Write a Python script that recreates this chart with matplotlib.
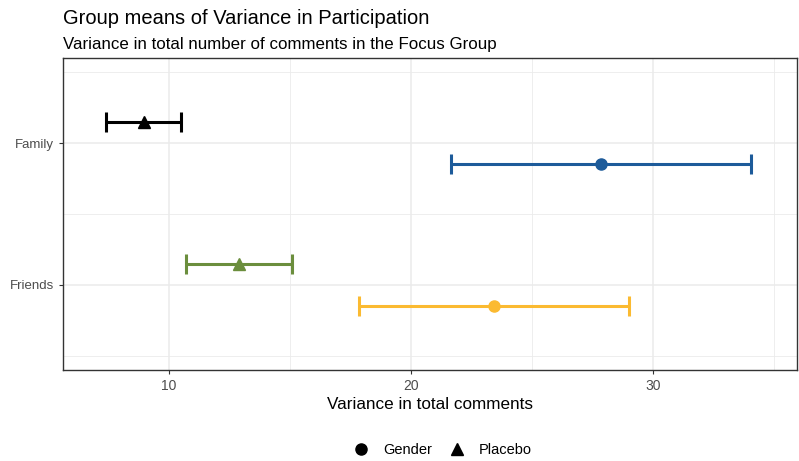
import matplotlib
matplotlib.use("Agg")
import matplotlib.pyplot as plt
from matplotlib.lines import Line2D
import numpy as np

categories = ["Friends", "Family"]
groups = ["Placebo", "Gender"]
# means / lower / upper per category (Friends, Family)
placebo_mean = [12.9, 8.95]
placebo_low = [10.7, 7.4]
placebo_high = [15.1, 10.5]
gender_mean = [23.45, 27.85]
gender_low = [17.85, 21.65]
gender_high = [29.0, 34.05]
colors = {("Friends", "Placebo"): "#6B8E3D", ("Family", "Placebo"): "#000000",
          ("Friends", "Gender"): "#FBBA31", ("Family", "Gender"): "#1D5B9A"}

plt.rcParams['font.family'] = ['Liberation Sans', 'DejaVu Sans']
fig = plt.figure(figsize=(7.99, 4.61), dpi=100)
ax = fig.add_axes([63/799, 1-370/461, (797-63)/799, (370-58)/461])

dodge = 0.15
for gi, (g, m, lo, hi, mk, off) in enumerate([
        ("Placebo", placebo_mean, placebo_low, placebo_high, "^", dodge),
        ("Gender", gender_mean, gender_low, gender_high, "o", -dodge)]):
    for ci, c in enumerate(categories):
        y = ci + 1 + off
        col = colors[(c, g)]
        ax.errorbar(m[ci], y, xerr=[[m[ci]-lo[ci]], [hi[ci]-m[ci]]], fmt=mk,
                    color=col, ecolor=col, elinewidth=2.2, capsize=7, capthick=2.2,
                    markersize=8, zorder=3)

ax.set_xlim(5.62, 35.95)
ax.set_ylim(0.4, 2.6)
ax.set_xticks([10, 20, 30])
ax.set_xticks([15, 25, 35], minor=True)
ax.set_yticks([1, 2])
ax.set_yticklabels(categories)
ax.set_yticks([0.5, 1.5, 2.5], minor=True)
ax.grid(which='major', color='#EBEBEB', linewidth=1.1)
ax.grid(which='minor', color='#EBEBEB', linewidth=0.6)
ax.set_axisbelow(True)
ax.tick_params(which='minor', length=0)
ax.tick_params(which='major', length=3, color='#333333', labelcolor='#4D4D4D', width=0.8)
ax.tick_params(axis='x', labelsize=10)
ax.tick_params(axis='y', labelsize=9.5)
for s in ax.spines.values():
    s.set_color('#333333')
    s.set_linewidth(1.0)
ax.set_xlabel("Variance in total comments", fontsize=12.3, labelpad=3)

fig.text(63/799, 1-18/461, "Group means of Variance in Participation", fontsize=14.5, va='center', ha='left')
fig.text(63/799, 1-44/461, "Variance in total number of comments in the Focus Group", fontsize=12.2, va='center', ha='left')

handles = [Line2D([], [], marker='o', linestyle='none', color='black', markersize=8),
           Line2D([], [], marker='^', linestyle='none', color='black', markersize=9)]
fig.legend(handles, ["Gender", "Placebo"], loc='center', bbox_to_anchor=(443/799, 1-450/461),
           ncol=2, frameon=False, fontsize=10.5, handletextpad=1.0, columnspacing=1.2, handlelength=1.0)

fig.savefig("out.png", dpi=100)
